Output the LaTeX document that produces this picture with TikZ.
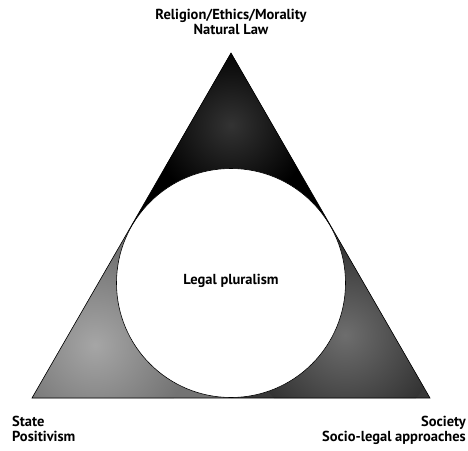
\documentclass[tikz,border=0pt]{standalone}
\usepackage{fontspec}
\setmainfont{PT Sans}
\usetikzlibrary{arrows}
\tikzset{
  label/.style={font=\bfseries\fontsize{14.5}{15}\selectfont, inner sep=0pt},
}
\begin{document}
\begin{tikzpicture}[x=1pt, y=-1pt]
\useasboundingbox (0,0) rectangle (468,450);
\coordinate (top) at (231,53);
\coordinate (left) at (32,398);
\coordinate (right) at (430,398);
\coordinate (mid) at (231,283);
\coordinate (tl) at (131.5,225.5);
\coordinate (tr) at (330.5,225.5);
\coordinate (tb) at (231,398);

\fill[black] (top) -- (tl) -- (mid) -- (tr) -- cycle;
\begin{scope}
  \clip (top) -- (tl) -- (mid) -- (tr) -- cycle;
  \shade[inner color=black!80, outer color=black] (231,125) circle (80);
\end{scope}
\fill[black!55] (left) -- (tl) -- (mid) -- (tb) -- cycle;
\begin{scope}
  \clip (left) -- (tl) -- (mid) -- (tb) -- cycle;
  \shade[inner color=black!35, outer color=black!55] (95,345) circle (95);
\end{scope}
\fill[black!78] (right) -- (tr) -- (mid) -- (tb) -- cycle;
\begin{scope}
  \clip (right) -- (tr) -- (mid) -- (tb) -- cycle;
  \shade[inner color=black!57, outer color=black!80] (345,335) circle (95);
\end{scope}

\node[circle, draw, fill=white, line width=0.6pt, minimum size=229pt, inner sep=0pt] (plural) at (mid) {};
\draw[line width=0.6pt] (top) -- (left) -- (right) -- cycle;

\node[label] (legal) at (231,281) {Legal pluralism};
\node[label, align=center, anchor=north] (religion) at (231,9) {Religion/Ethics/Morality\\Natural Law};
\node[label, align=left, anchor=north west] (state) at (12,416) {State\\Positivism};
\node[label, align=right, anchor=north east] (society) at (466,416) {Society\\Socio-legal approaches};
\end{tikzpicture}
\end{document}
